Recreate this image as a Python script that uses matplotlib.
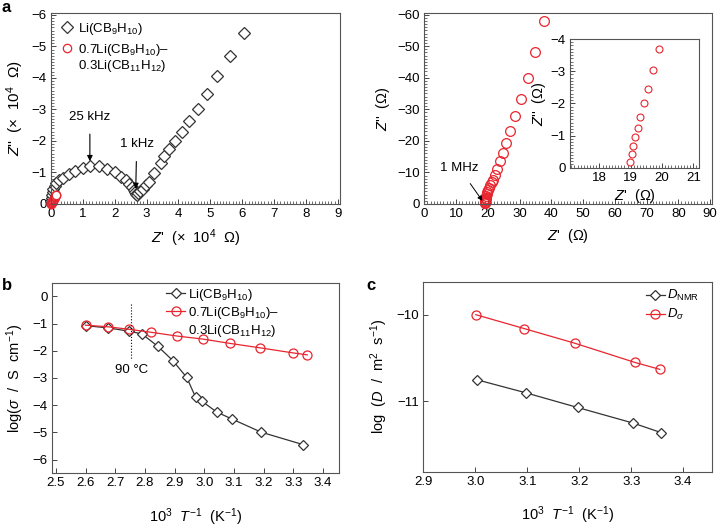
import numpy as np
import matplotlib
matplotlib.use('Agg')
import matplotlib.pyplot as plt
from matplotlib.lines import Line2D
from matplotlib.ticker import AutoMinorLocator, MultipleLocator, FormatStrFormatter

plt.rcParams['font.family'] = ['Liberation Sans', 'DejaVu Sans']
plt.rcParams['mathtext.fontset'] = 'custom'
plt.rcParams['mathtext.rm'] = 'Liberation Sans'
plt.rcParams['mathtext.it'] = 'Liberation Sans:italic'
plt.rcParams['mathtext.bf'] = 'Liberation Sans:bold'
plt.rcParams['font.size'] = 9.5

BLACK = '#333333'
RED = '#e8252e'
LABEL_FS = 10.5
LEG_FS = 9.5

# ---- panel a (left): Nyquist, x 10^4 ohm
a_li_x = [0.01, 0.02, 0.03, 0.05, 0.07, 0.11, 0.16, 0.26, 0.39, 0.55, 0.76, 0.99, 1.22,
          1.50, 1.75, 2.00, 2.21, 2.35, 2.45, 2.53, 2.59, 2.63, 2.66, 2.69, 2.73, 2.79,
          2.88, 2.98, 3.09, 3.22, 3.44, 3.56, 3.71, 3.88, 4.10, 4.33, 4.60, 4.90, 5.22,
          5.62, 6.07]
a_li_y = [-0.08, -0.18, -0.28, -0.38, -0.47, -0.57, -0.68, -0.76, -0.84, -0.94, -1.05,
          -1.13, -1.21, -1.19, -1.12, -1.01, -0.87, -0.76, -0.65, -0.54, -0.45, -0.38,
          -0.32, -0.30, -0.34, -0.40, -0.49, -0.59, -0.71, -0.99, -1.30, -1.51, -1.74,
          -1.99, -2.29, -2.62, -3.03, -3.50, -4.05, -4.70, -5.41]
a_mix_x = [0.002, 0.005, 0.01, 0.015, 0.02, 0.03, 0.04, 0.05, 0.06, 0.07, 0.08, 0.09,
           0.10, 0.11, 0.12, 0.13, 0.14, 0.15, 0.16, 0.17]
a_mix_y = [-0.002, -0.01, -0.02, -0.03, -0.045, -0.06, -0.08, -0.10, -0.12, -0.14,
           -0.155, -0.17, -0.19, -0.21, -0.22, -0.24, -0.26, -0.27, -0.285, -0.30]

# ---- panel a (right): Nyquist of the mixture, ohm
ar_x = [18.99, 19.03, 19.08, 19.13, 19.22, 19.30, 19.42, 19.54, 19.70, 19.90, 20.15,
        20.45, 20.8, 21.2, 21.6, 22.2, 22.9, 23.7, 24.7, 25.8, 27.1, 28.7, 30.5, 32.6,
        34.9, 37.8]
ar_y = [-0.19, -0.43, -0.67, -0.95, -1.24, -1.59, -2.0, -2.46, -3.03, -3.68, -4.4,
        -5.2, -6.1, -6.9, -7.6, -9.3, -11.2, -13.5, -16.1, -19.4, -23.1, -27.8, -33.3,
        -40.0, -48.0, -57.9]
inset_n = 10

# ---- panel b: conductivity
b_li_x = [2.602, 2.676, 2.746, 2.79, 2.844, 2.894, 2.941, 2.971, 2.993, 3.042, 3.092,
          3.192, 3.334]
b_li_y = [-1.08, -1.16, -1.28, -1.38, -1.84, -2.36, -2.98, -3.71, -3.86, -4.25, -4.50,
          -4.99, -5.45]
b_mix_x = [2.60, 2.676, 2.746, 2.82, 2.909, 2.995, 3.087, 3.187, 3.30, 3.347]
b_mix_y = [-1.06, -1.12, -1.21, -1.32, -1.46, -1.57, -1.73, -1.89, -2.08, -2.15]

# ---- panel c: diffusion coefficients
c_x_sig = [3.001, 3.094, 3.192, 3.307, 3.355]
c_y_sig = [-10.0, -10.16, -10.33, -10.55, -10.63]
c_x_nmr = [3.003, 3.097, 3.197, 3.304, 3.358]
c_y_nmr = [-10.75, -10.90, -11.07, -11.25, -11.36]

lab_li = r'Li(CB$_9$H$_{10}$)'
lab_mix1 = r'0.7Li(CB$_9$H$_{10}$)–'
lab_mix2 = r'0.3Li(CB$_{11}$H$_{12}$)'

W, H = 719, 527
fig = plt.figure(figsize=(W / 100, H / 100), dpi=100)


def px_axes(l, t, r, b):
    return fig.add_axes([l / W, 1 - b / H, (r - l) / W, (b - t) / H])


def style(ax, minor=False):
    for s in ax.spines.values():
        s.set_color('#555555')
        s.set_linewidth(0.8)
    ax.tick_params(direction='in', length=3.5, width=0.7, color='#444444', pad=3)
    if minor:
        ax.xaxis.set_minor_locator(AutoMinorLocator(10))
        ax.yaxis.set_minor_locator(AutoMinorLocator(10))
        ax.tick_params(which='minor', direction='in', length=2.4, width=0.6, color='#555555')


blank = Line2D([], [], linestyle='none', marker='none')

# panel a left
ax1 = px_axes(51, 13, 340, 204)
h1, = ax1.plot(a_li_x, a_li_y, 'D', ms=6, mfc='white', mec=BLACK, mew=0.9, clip_on=False)
h2, = ax1.plot(a_mix_x, a_mix_y, 'o', ms=6, mfc='white', mec=RED, mew=0.9, clip_on=False)
ax1.set_xlim(0, 9.07)
ax1.set_ylim(0, -6.06)
ax1.xaxis.set_major_locator(MultipleLocator(1))
ax1.yaxis.set_major_locator(MultipleLocator(1))
style(ax1, minor=True)
ax1.set_xlabel(r"$Z$'  (×  10$^4$  Ω)", labelpad=5, fontsize=LABEL_FS)
ax1.set_ylabel(r"$Z$''  (×  10$^4$  Ω)", labelpad=4, fontsize=11)
leg1 = ax1.legend([h1], [lab_li], loc='upper left', frameon=False, handlelength=0.8,
                  handletextpad=0.4, borderaxespad=0.2, bbox_to_anchor=(0.01, 1.0),
                  fontsize=LEG_FS)
ax1.add_artist(leg1)
ax1.legend([h2, blank], [lab_mix1, lab_mix2], loc='upper left', frameon=False,
           handlelength=0.8, handletextpad=0.4, labelspacing=0.02, borderaxespad=0.2,
           bbox_to_anchor=(0.01, 0.89), fontsize=LEG_FS)
ax1.annotate('25 kHz', xy=(1.22, -1.36), xytext=(1.22, -2.76), ha='center', va='center',
             arrowprops=dict(arrowstyle='-|>', color='k', lw=0.8, mutation_scale=8,
                             shrinkA=6, shrinkB=0))
ax1.annotate('1 kHz', xy=(2.66, -0.48), xytext=(2.69, -1.89), ha='center', va='center',
             arrowprops=dict(arrowstyle='-|>', color='k', lw=0.8, mutation_scale=8,
                             shrinkA=6, shrinkB=0))
fig.text(2 / W, 1 - 7 / H, 'a', fontsize=12, fontweight='bold', va='center')

# panel a right
ax2 = px_axes(424.3, 13.3, 712.3, 204)
ax2.plot(ar_x, ar_y, 'o', ms=7, mfc='none', mec=RED, mew=0.9, clip_on=False)
ax2.set_xlim(0, 90.7)
ax2.set_ylim(0, -60.4)
ax2.xaxis.set_major_locator(MultipleLocator(10))
ax2.yaxis.set_major_locator(MultipleLocator(10))
style(ax2, minor=True)
ax2.set_xlabel(r"$Z$'  (Ω)", labelpad=5, fontsize=LABEL_FS)
ax2.set_ylabel(r"$Z$''  (Ω)", labelpad=4, fontsize=LABEL_FS)
ax2.annotate('1 MHz', xy=(18.3, -1.0), xytext=(11.0, -11.4), ha='center', va='center',
             arrowprops=dict(arrowstyle='-|>', color='k', lw=0.7, mutation_scale=7,
                             shrinkA=6, shrinkB=0))

ax3 = px_axes(570, 39, 699, 167.7)
ax3.plot(ar_x[:inset_n], ar_y[:inset_n], 'o', ms=5, mfc='white', mec=RED, mew=0.8)
ax3.set_xlim(17.06, 21.18)
ax3.set_ylim(0, -4)
ax3.xaxis.set_major_locator(MultipleLocator(1))
ax3.yaxis.set_major_locator(MultipleLocator(1))
style(ax3, minor=True)
ax3.set_xlabel(r"$Z$'  (Ω)", labelpad=2, fontsize=LABEL_FS)
ax3.set_ylabel(r"$Z$''  (Ω)", labelpad=2, fontsize=LABEL_FS)

# panel b
ax4 = px_axes(52, 282.7, 339.3, 473.3)
hb1, = ax4.plot(b_li_x, b_li_y, '-D', color=BLACK, lw=0.9, ms=5.2, mfc='white', mec=BLACK,
                mew=0.9)
hb2, = ax4.plot(b_mix_x, b_mix_y, '-o', color=RED, lw=0.9, ms=6.5, mfc='none', mec=RED,
                mew=0.9)
t90 = 1000 / (273.15 + 90)
ax4.plot([t90, t90], [-0.3, -2.35], ':', color='k', lw=0.8)
ax4.text(t90, -2.72, '90 °C', ha='center', va='center')
ax4.set_xlim(2.487, 3.455)
ax4.set_ylim(-6.5, 0.5)
ax4.xaxis.set_major_locator(MultipleLocator(0.1))
ax4.xaxis.set_major_formatter(FormatStrFormatter('%.1f'))
ax4.yaxis.set_major_locator(MultipleLocator(1))
style(ax4)
ax4.set_xlabel(r'10$^3$  $T^{-1}$  (K$^{-1}$)', labelpad=12, fontsize=LABEL_FS)
ax4.set_ylabel(r'log($\sigma$  /  S  cm$^{-1}$)', labelpad=5, fontsize=LABEL_FS)
ax4.legend([hb1, hb2, blank], [lab_li, lab_mix1, lab_mix2], loc='upper left',
           frameon=False, handlelength=1.4, handletextpad=0.2, labelspacing=0.15,
           borderaxespad=0.0, bbox_to_anchor=(0.38, 1.005), fontsize=LEG_FS)
fig.text(2 / W, 1 - 285 / H, 'b', fontsize=12, fontweight='bold', va='center')

# panel c
ax5 = px_axes(423.3, 281.7, 711.7, 471.7)
ax5.plot(c_x_nmr, c_y_nmr, '-D', color=BLACK, lw=0.9, ms=5.2, mfc='white', mec=BLACK,
         mew=0.9, label=r'$D_{\rm NMR}$')
ax5.plot(c_x_sig, c_y_sig, '-o', color=RED, lw=0.9, ms=6.5, mfc='none', mec=RED,
         mew=0.9, label=r'$D_\sigma$')
ax5.set_xlim(2.9, 3.455)
ax5.set_ylim(-11.81, -9.62)
ax5.xaxis.set_major_locator(MultipleLocator(0.1))
ax5.xaxis.set_major_formatter(FormatStrFormatter('%.1f'))
ax5.yaxis.set_major_locator(MultipleLocator(1))
style(ax5)
ax5.set_xlabel(r'10$^3$  $T^{-1}$  (K$^{-1}$)', labelpad=12, fontsize=LABEL_FS)
ax5.set_ylabel(r'log  ($D$  /  m$^2$  s$^{-1}$)', labelpad=5, fontsize=LABEL_FS)
ax5.legend(loc='upper left', frameon=False, handlelength=1.4, handletextpad=0.2,
           labelspacing=0.3, borderaxespad=0.1, bbox_to_anchor=(0.75, 1.0),
           fontsize=LEG_FS)
fig.text(366 / W, 1 - 285 / H, 'c', fontsize=12, fontweight='bold', va='center')

fig.savefig('out.png', dpi=100)
